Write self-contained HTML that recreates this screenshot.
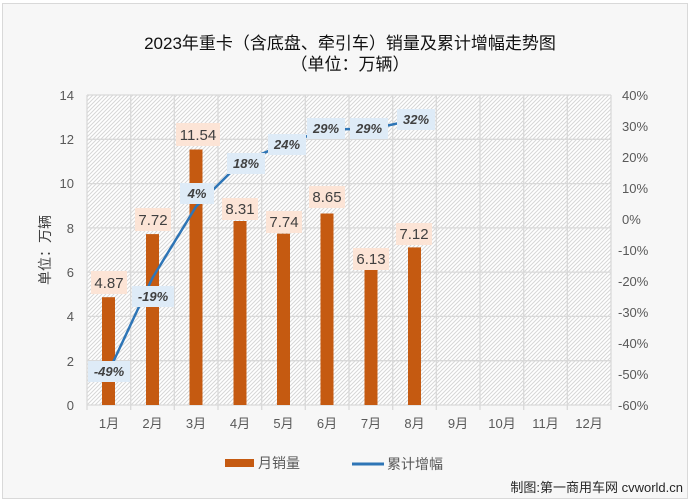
<!DOCTYPE html>
<html><head><meta charset="utf-8"><style>
html,body{margin:0;padding:0;background:#fff;}
svg{display:block;font-family:"Liberation Sans","Noto Sans CJK SC",sans-serif;}
</style></head><body>
<svg width="690" height="503" viewBox="0 0 690 503" xmlns="http://www.w3.org/2000/svg">
<defs>
<pattern id="h" width="4" height="4" patternUnits="userSpaceOnUse">
<rect width="4" height="4" fill="#ffffff"/>
<path d="M-1,1 l2,-2 M0,4 l4,-4 M3,5 l2,-2" stroke="#d6d6d6" stroke-width="1"/>
</pattern>
</defs>
<rect x="0" y="0" width="690" height="503" fill="#fff"/>
<rect x="2.5" y="3.5" width="685" height="495" fill="#f7f7f7" stroke="#d9d9d9"/>
<text x="350" y="49" font-size="17" text-anchor="middle" fill="#111">2023年重卡（含底盘、牵引车）销量及累计增幅走势图</text>
<text x="350" y="70" font-size="17" text-anchor="middle" fill="#111">（单位：万辆）</text>
<rect x="87" y="95" width="524" height="310" fill="url(#h)"/>
<g stroke="#d9d9d9" stroke-width="1.3">
<line x1="87" y1="95" x2="611" y2="95"/><line x1="87" y1="139.3" x2="611" y2="139.3"/>
<line x1="87" y1="183.6" x2="611" y2="183.6"/><line x1="87" y1="227.9" x2="611" y2="227.9"/>
<line x1="87" y1="272.1" x2="611" y2="272.1"/><line x1="87" y1="316.4" x2="611" y2="316.4"/>
<line x1="87" y1="360.7" x2="611" y2="360.7"/><line x1="87" y1="405" x2="611" y2="405"/>
<line x1="87" y1="95" x2="87" y2="410"/><line x1="130.7" y1="95" x2="130.7" y2="410"/>
<line x1="174.3" y1="95" x2="174.3" y2="410"/><line x1="218" y1="95" x2="218" y2="410"/>
<line x1="261.7" y1="95" x2="261.7" y2="410"/><line x1="305.3" y1="95" x2="305.3" y2="410"/>
<line x1="349" y1="95" x2="349" y2="410"/><line x1="392.7" y1="95" x2="392.7" y2="410"/>
<line x1="436.3" y1="95" x2="436.3" y2="410"/><line x1="480" y1="95" x2="480" y2="410"/>
<line x1="523.7" y1="95" x2="523.7" y2="410"/><line x1="567.3" y1="95" x2="567.3" y2="410"/>
<line x1="611" y1="95" x2="611" y2="410"/>
</g>
<g font-size="13" fill="#595959" text-anchor="end">
<text x="74" y="100">14</text><text x="74" y="144">12</text><text x="74" y="188">10</text>
<text x="74" y="233">8</text><text x="74" y="277">6</text><text x="74" y="321">4</text>
<text x="74" y="366">2</text><text x="74" y="410">0</text>
</g>
<g font-size="13" fill="#595959">
<text x="622" y="100">40%</text><text x="622" y="131">30%</text><text x="622" y="162">20%</text>
<text x="622" y="193">10%</text><text x="622" y="224">0%</text><text x="618" y="255">-10%</text>
<text x="618" y="286">-20%</text><text x="618" y="317">-30%</text><text x="618" y="348">-40%</text>
<text x="618" y="379">-50%</text><text x="618" y="410">-60%</text>
</g>
<text transform="translate(50,250) rotate(-90)" font-size="14" fill="#404040" text-anchor="middle">单位：万辆</text>
<g font-size="13" fill="#595959" text-anchor="middle">
<text x="109" y="428">1月</text><text x="152.5" y="428">2月</text><text x="196" y="428">3月</text>
<text x="240" y="428">4月</text><text x="283.5" y="428">5月</text><text x="327" y="428">6月</text>
<text x="371" y="428">7月</text><text x="414.5" y="428">8月</text><text x="458" y="428">9月</text>
<text x="502" y="428">10月</text><text x="545.5" y="428">11月</text><text x="589" y="428">12月</text>
</g>
<g fill="#c55a11">
<rect x="102" y="297.2" width="13" height="107.8"/>
<rect x="146" y="234.1" width="13" height="170.9"/>
<rect x="189.5" y="149.5" width="13" height="255.5"/>
<rect x="233.5" y="221" width="13" height="184"/>
<rect x="277" y="233.6" width="13" height="171.4"/>
<rect x="320.5" y="213.5" width="13" height="191.5"/>
<rect x="364.5" y="269.3" width="13" height="135.7"/>
<rect x="408" y="247.4" width="13" height="157.6"/>
</g>
<g fill="#fce4d6">
<rect x="91" y="271" width="36" height="23"/><rect x="135" y="208" width="36" height="23"/>
<rect x="176" y="123" width="44" height="23"/><rect x="222" y="198" width="36" height="22"/>
<rect x="266" y="211" width="36" height="22"/><rect x="309" y="186" width="36" height="22"/>
<rect x="353" y="248" width="36" height="22"/><rect x="396" y="223" width="36" height="22"/>
</g>
<g font-size="15" fill="#404040" text-anchor="middle">
<text x="109" y="288">4.87</text><text x="153" y="225">7.72</text><text x="198" y="140">11.54</text>
<text x="240" y="214">8.31</text><text x="284" y="227">7.74</text><text x="327" y="202">8.65</text>
<text x="371" y="264">6.13</text><text x="414" y="239">7.12</text>
</g>
<polyline points="109,370.9 152.5,277.9 196,206.6 240,163.2 283.5,144.6 327,129.1 371,129.1 414.5,119.8" fill="none" stroke="#2e75b6" stroke-width="2.5"/>
<g fill="#deebf7">
<rect x="88" y="361" width="42" height="21"/><rect x="132" y="286" width="42" height="21"/>
<rect x="180" y="183" width="34" height="21"/><rect x="227" y="153" width="38" height="21"/>
<rect x="268" y="134" width="38" height="21"/><rect x="307" y="118" width="38" height="21"/>
<rect x="350" y="118" width="38" height="21"/><rect x="397" y="109" width="38" height="21"/>
</g>
<g font-size="13" font-weight="bold" font-style="italic" fill="#404040" text-anchor="middle">
<text x="109" y="376">-49%</text><text x="153" y="301">-19%</text><text x="197" y="198">4%</text>
<text x="246" y="168">18%</text><text x="287" y="149">24%</text><text x="326" y="133">29%</text>
<text x="369" y="133">29%</text><text x="416" y="124">32%</text>
</g>
<rect x="225" y="459" width="29" height="8" fill="#c55a11"/>
<text x="258" y="468" font-size="14" fill="#595959">月销量</text>
<line x1="352" y1="464" x2="384" y2="464" stroke="#2e75b6" stroke-width="3"/>
<text x="387" y="469" font-size="14" fill="#595959">累计增幅</text>
<text x="683" y="492" font-size="13" fill="#262626" text-anchor="end">制图:第一商用车网 cvworld.cn</text>
</svg>
</body></html>
